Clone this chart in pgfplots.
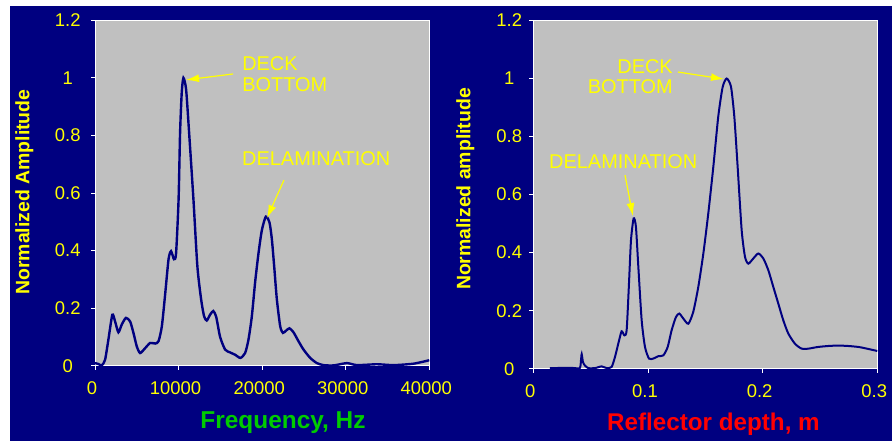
\documentclass[border=0pt]{standalone}
\usepackage{fontspec}
\setmainfont{Liberation Sans}
\usepackage{pgfplots}
\usepackage{pgfplotstable}
\pgfplotsset{compat=1.18}
\usetikzlibrary{arrows.meta}
\definecolor{navybg}{RGB}{0,0,128}
\definecolor{plotgray}{RGB}{192,192,192}
\definecolor{ylw}{RGB}{255,255,0}
\definecolor{grn}{RGB}{0,204,0}
\definecolor{curve}{RGB}{0,0,128}

\pgfplotstableread{
f v
0 0.009
400 0.006
800 0.001
1200 0.02
1600 0.09
2075 0.177
2400 0.154
2800 0.116
3200 0.143
3700 0.166
4200 0.154
4600 0.114
5000 0.067
5400 0.044
6000 0.061
6600 0.079
7200 0.077
7600 0.085
8000 0.137
8400 0.25
8800 0.37
9100 0.398
9450 0.37
9700 0.39
10000 0.577
10180 0.81
10380 0.95
10580 1.0
10900 0.96
11260 0.81
11780 0.577
12250 0.345
12700 0.23
13050 0.172
13370 0.157
13770 0.177
14150 0.19
14500 0.17
14970 0.10
15570 0.056
16170 0.046
16770 0.038
17400 0.027
17960 0.044
18360 0.09
18760 0.17
19160 0.29
19560 0.39
19960 0.47
20440 0.518
20880 0.497
21160 0.44
21440 0.345
21760 0.23
22160 0.137
22480 0.114
22870 0.122
23270 0.13
23750 0.116
24350 0.085
24950 0.056
25750 0.027
26550 0.009
27340 0.002
28540 0.001
30140 0.009
31340 0.002
33730 0.005
35730 0.002
38120 0.007
40000 0.019
}\freqdata

\pgfplotstableread{
d v
0.0145 0.002
0.0334 0.003
0.0405 0.002
0.0416 0.03
0.0422 0.05
0.0433 0.023
0.045 0.011
0.048 0.002
0.0538 0.002
0.0596 0.008
0.064 0.002
0.0683 0.006
0.0712 0.04
0.0741 0.086
0.077 0.129
0.0794 0.115
0.0814 0.132
0.0834 0.29
0.0852 0.443
0.0875 0.518
0.0895 0.489
0.0916 0.351
0.0945 0.167
0.0974 0.075
0.1009 0.035
0.1047 0.035
0.109 0.043
0.1134 0.046
0.1172 0.075
0.1206 0.132
0.1244 0.178
0.1273 0.19
0.1308 0.173
0.1352 0.155
0.1395 0.196
0.1439 0.282
0.1483 0.397
0.1526 0.535
0.157 0.696
0.1613 0.869
0.1651 0.97
0.1686 1.0
0.1724 0.972
0.1753 0.869
0.1782 0.696
0.1817 0.478
0.1846 0.386
0.1875 0.362
0.1919 0.38
0.1962 0.397
0.2006 0.38
0.205 0.339
0.2093 0.282
0.2137 0.224
0.218 0.167
0.2224 0.121
0.2282 0.086
0.234 0.069
0.2398 0.069
0.2485 0.075
0.2602 0.079
0.2718 0.079
0.2834 0.075
0.2922 0.068
0.3 0.061
}\depthdata

\pgfplotsset{
  mystyle/.style={
    scale only axis, anchor=south west,
    axis background/.style={fill=plotgray},
    axis line style={white, line width=0.8bp},
    tick style={white, line width=0.8bp},
    tick align=outside, major tick length=4bp,
    xtick pos=left, ytick pos=left,
    scaled x ticks=false, scaled y ticks=false,
    ymin=0, ymax=1.2,
    ytick={0,0.2,0.4,0.6,0.8,1,1.2},
    yticklabels={0,0.2,0.4,0.6,0.8,1,1.2},
    ticklabel style={font=\fontsize{18.5}{20}\selectfont, text=ylw},
    /pgf/number format/assume math mode=true,
    xticklabel style={anchor=north, inner sep=0pt, xshift=-3bp},
    yticklabel style={anchor=east, inner sep=0pt, text width=27bp, align=center},
  },
}
\tikzset{
  ann/.style={anchor=base west, inner sep=0pt, text=ylw, font=\fontsize{20}{20}\selectfont},
  annr/.style={anchor=base east, inner sep=0pt, text=ylw, font=\fontsize{20}{20}\selectfont},
  arr/.style={ylw, line width=1.2bp, -{Latex[length=13bp,width=8bp]}},
}

\begin{document}
\begin{tikzpicture}
\fill[white] (0,0) rectangle (892bp,441bp);
\fill[navybg] (10bp,0) rectangle (892bp,435bp);

\begin{axis}[mystyle,
  at={(95bp,75.3bp)}, width=334.3bp, height=345.4bp,
  xmin=0, xmax=40000,
  xtick={0,10000,20000,30000,40000},
  xticklabels={0,10000,20000,30000,40000},
  xticklabel shift=12bp, yticklabel shift=9.5bp,
]
\addplot[curve, line width=2.4bp, smooth, tension=0.4] table[x=f, y=v] {\freqdata};
\node[ann] at (axis cs:17600,1.024) {DECK};
\node[ann] at (axis cs:17600,0.951) {BOTTOM};
\draw[arr] (axis cs:16510,1.0135) -- (axis cs:10890,0.993);
\node[ann] at (axis cs:17590,0.694) {DELAMINATION};
\draw[arr] (axis cs:22610,0.645) -- (axis cs:20580,0.513);
\end{axis}

\begin{axis}[mystyle,
  at={(533.3bp,72.3bp)}, width=344bp, height=348.2bp,
  xmin=0, xmax=0.3,
  xtick={0,0.1,0.2,0.3},
  xticklabels={0,0.1,0.2,0.3},
  xticklabel shift=11.3bp, yticklabel shift=6.3bp,
]
\addplot[curve, line width=2bp, smooth, tension=0.4] table[x=d, y=v] {\depthdata};
\node[annr] at (axis cs:0.1218,1.019) {DECK};
\node[annr] at (axis cs:0.1218,0.947) {BOTTOM};
\draw[arr] (axis cs:0.1262,1.0224) -- (axis cs:0.1663,0.998);
\node[ann] at (axis cs:0.0137,0.6916) {DELAMINATION};
\draw[arr] (axis cs:0.0800,0.667) -- (axis cs:0.0869,0.526);
\end{axis}

\node[rotate=90, anchor=base, inner sep=0pt, text=ylw, font=\bfseries\fontsize{19.5}{20}\selectfont] at (29.3bp,249bp) {Normalized Amplitude};
\node[rotate=90, anchor=base, inner sep=0pt, text=ylw, font=\bfseries\fontsize{19.5}{20}\selectfont] at (470.3bp,252bp) {Normalized amplitude};
\node[anchor=base, inner sep=0pt, text=grn, font=\bfseries\fontsize{24.5}{25}\selectfont] at (283bp,13bp) {Frequency, Hz};
\node[anchor=base, inner sep=0pt, text=red, font=\bfseries\fontsize{24.3}{25}\selectfont] at (713.5bp,11bp) {Reflector depth, m};

\pgfresetboundingbox
\useasboundingbox (0,0) rectangle (892bp,441bp);
\end{tikzpicture}
\end{document}
